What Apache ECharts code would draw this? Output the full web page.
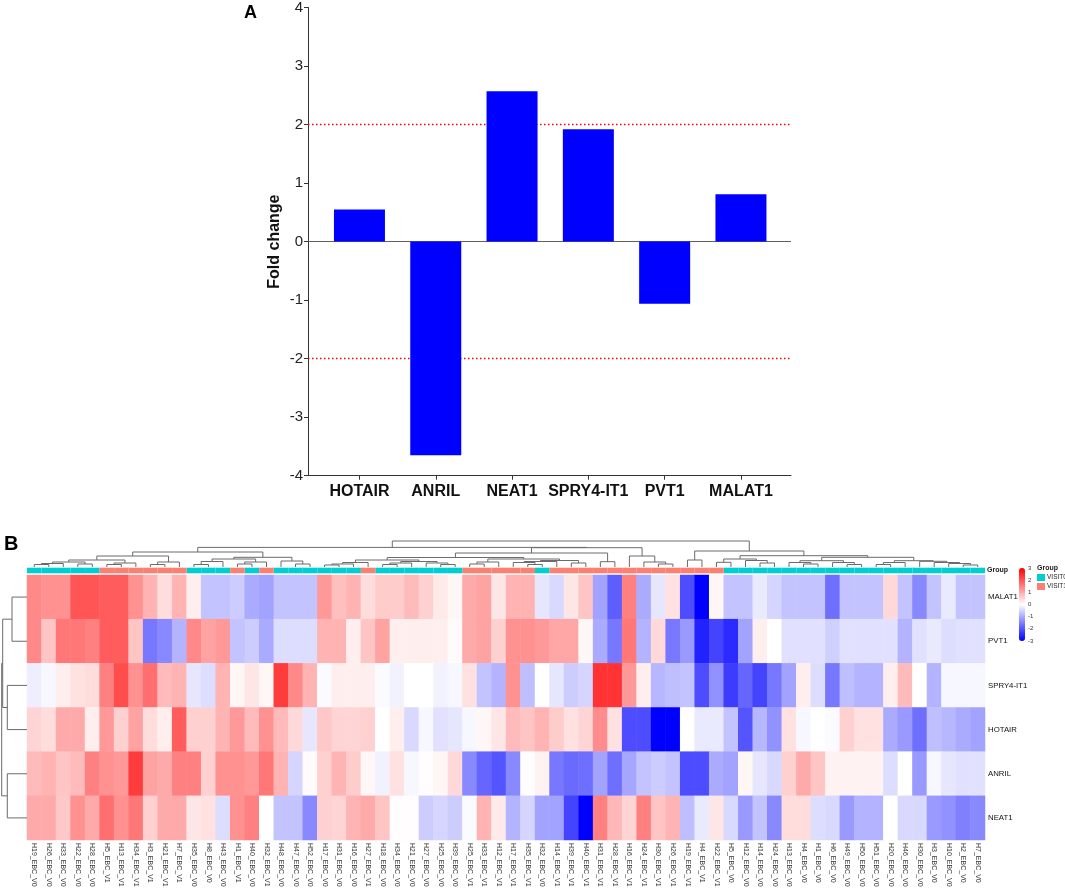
<!DOCTYPE html>
<html>
<head>
<meta charset="utf-8">
<script src="https://cdn.jsdelivr.net/npm/echarts@6/dist/echarts.min.js"></script>
<style>
html,body{margin:0;padding:0;background:#fff;}
#chart{width:1065px;height:892px;}
</style>
</head>
<body>
<div id="chart"></div>
<script>
// ---------- Panel A data ----------
const barCategories = ['HOTAIR', 'ANRIL', 'NEAT1', 'SPRY4-IT1', 'PVT1', 'MALAT1'];
const foldChange = [0.55, -3.65, 2.57, 1.92, -1.06, 0.81];
const thresholds = [2, -2];

// ---------- Panel B data ----------
const genes = ['MALAT1', 'PVT1', 'SPRY4-IT1', 'HOTAIR', 'ANRIL', 'NEAT1'];
const samples = [
  'H19_EBC_V0','H26_EBC_V0','H33_EBC_V0','H22_EBC_V0','H28_EBC_V0','H5_EBC_V1','H13_EBC_V1','H34_EBC_V1','H3_EBC_V1','H21_EBC_V1',
  'H7_EBC_V1','H35_EBC_V0','H8_EBC_V0','H43_EBC_V0','H1_EBC_V1','H40_EBC_V0','H32_EBC_V1','H48_EBC_V0','H47_EBC_V0','H52_EBC_V0',
  'H17_EBC_V0','H31_EBC_V0','H16_EBC_V0','H27_EBC_V1','H18_EBC_V0','H34_EBC_V0','H21_EBC_V0','H27_EBC_V0','H25_EBC_V0','H39_EBC_V0',
  'H25_EBC_V1','H33_EBC_V1','H12_EBC_V1','H17_EBC_V1','H35_EBC_V1','H32_EBC_V0','H14_EBC_V1','H39_EBC_V1','H40_EBC_V1','H31_EBC_V1',
  'H28_EBC_V1','H16_EBC_V1','H24_EBC_V1','H30_EBC_V1','H26_EBC_V1','H19_EBC_V1','H4_EBC_V1','H22_EBC_V1','H5_EBC_V0','H12_EBC_V0',
  'H14_EBC_V0','H24_EBC_V0','H13_EBC_V0','H4_EBC_V0','H1_EBC_V0','H6_EBC_V0','H49_EBC_V0','H50_EBC_V0','H51_EBC_V0','H20_EBC_V0',
  'H46_EBC_V0','H30_EBC_V0','H3_EBC_V0','H10_EBC_V0','H2_EBC_V0','H7_EBC_V0'
];
const groupNames = ['VISIT0', 'VISIT1'];

const malat1 = [1.4,1.3,1.3,2.0,2.0,1.9,1.9,1.3,0.9,0.4, 0.9,0.2,-0.7,-0.7,-0.6,-1.0,-1.1,-0.7,-0.7,-0.7,
  1.2,0.75,0.9,0.4,0.6,0.6,0.8,0.55,0.25,0.1, 1.0,1.1,0.3,0.9,0.9,-0.3,-0.45,0.3,0.7,-1.1,
  -1.9,1.5,-1.0,-0.3,0.35,-2.1,-3.0,0.1,-0.7,-0.7, -0.25,-0.5,-0.7,-0.7,-0.7,-1.7,-0.7,-0.7,-0.7,0.45,
  -0.7,-1.4,-0.7,-0.25,-0.7,-0.7];
const pvt1 = [1.4,0.7,1.6,1.6,1.5,1.9,1.9,0.7,-1.6,-1.4, -0.9,1.4,1.1,1.2,-0.7,-0.6,-1.0,-0.4,-0.4,-0.4,
  0.9,0.9,0.2,0.7,1.1,0.2,0.2,0.2,0.2,0.05, 1.0,1.1,0.55,1.3,1.3,1.2,1.05,1.05,0.1,-1.0,
  -1.6,1.6,-0.9,0.45,-1.6,-1.2,-2.6,-2.2,-2.5,-1.1, 0.2,0.0,-0.35,-0.35,-0.35,-0.55,-0.35,-0.35,-0.35,-0.35,
  -0.9,-0.35,-0.25,-0.4,-0.35,-0.35];
const spry4 = [-0.2,-0.1,0.2,0.35,0.4,1.5,2.1,1.3,1.7,0.8, 0.9,-0.3,-0.4,0.9,0.1,0.3,0.1,2.3,1.4,0.9,
  -0.05,0.2,0.2,0.2,-0.05,-0.15,0.0,0.0,-0.15,-0.1, 0.35,-0.7,-0.9,1.3,-0.75,0.0,-0.3,-0.6,-0.5,2.4,
  2.4,1.2,0.2,-0.85,-0.75,-0.7,-2.1,-1.3,-2.3,-1.8, -2.2,-1.6,-1.1,0.2,-0.4,-1.6,-0.75,-0.9,-0.9,0.2,
  0.8,0.0,-0.9,-0.1,-0.1,-0.1];
const hotair = [0.5,0.4,1.0,1.0,0.2,1.2,0.55,1.1,0.4,0.2, 1.9,0.55,0.55,0.9,1.2,0.8,1.3,0.8,0.45,-0.3,
  0.65,0.5,0.5,0.55,0.0,0.2,-0.45,-0.1,-0.35,-0.3, -0.1,0.1,0.3,0.8,0.7,0.9,0.6,0.35,0.5,1.35,
  0.35,-2.1,-2.1,-3.0,-3.0,0.0,-0.25,-0.25,-0.7,-2.0, -0.85,-1.3,0.35,-0.1,0.0,-0.05,0.55,0.35,0.35,-1.0,
  -1.2,-1.7,-0.75,-0.85,-1.0,-1.1];
const anril = [0.8,0.9,0.7,0.8,1.5,1.3,1.2,2.3,1.1,1.0, 1.5,1.5,0.55,1.3,1.3,1.2,1.6,0.9,-0.5,0.05,
  0.55,0.9,0.6,0.1,-0.15,0.35,-0.1,0.02,0.1,0.45, -1.4,-1.8,-2.0,-1.4,0.02,0.15,-1.6,-1.75,-1.7,-1.1,
  -1.7,-1.05,-0.7,-0.6,-0.7,-2.1,-2.1,-1.0,-1.1,0.1, -0.3,-0.45,0.55,1.0,0.7,0.15,0.15,0.15,0.15,-0.4,
  0.0,-1.2,-0.1,-0.3,-0.35,-0.35];
const neat1 = [1.0,1.0,0.65,1.3,1.0,1.7,1.3,1.6,0.55,1.0, 1.0,0.3,0.35,-0.4,1.3,1.5,0.0,-0.7,-0.7,-1.4,
  0.55,0.5,0.9,1.0,0.7,0.02,0.02,-0.6,-0.5,-0.6, -0.05,0.9,0.25,-0.9,-0.5,-1.1,-1.1,-2.2,-3.0,1.5,
  0.85,0.5,1.5,0.7,0.9,-0.75,-0.25,0.3,-0.45,-1.2, -0.7,-1.4,0.4,0.4,-0.4,-0.45,-1.2,-0.9,-0.9,0.0,
  -0.45,-0.45,-1.2,-1.3,-1.5,-1.4];
const geneValues = [malat1, pvt1, spry4, hotair, anril, neat1];

// Column dendrogram: [mergeHeight, left, right]; leaves are column indices
const clusterA = [15,
  [11, [7, [5, [3.5, [2.5, 0, 1], 2], [3, 3, 4]], [4, [2.5, 5, 6], 7]], [5, [2.5, 8, 9], 10]],
  [9.7, [8, [5.5, [2.5, 11, 12], 13], [5, [3, 14, 15], 16]], [6, 17, [3, 18, 19]]]];
const clusterB = [19.3,
  [14, [9.5,
        [7, [4.5, [3, [2, 20, 21], 22], 23], [5.5, [4, [2.5, 24, 25], 26], [4, 27, [2.5, 28, 29]]]],
        [8, [5, [3, 30, 31], 32], [6.5, [5.5, [4.5, 33, [2.5, 34, 35]], 36], [4, 37, 38]]]],
       [5.3, 39, 40]],
  [11, 41, [5, 42, [3, 43, 44]]]];
const clusterR = [16, [7, 45, 46],
  [11.3, [8, [4.7, 47, 48], [6.5, 49, [4, 50, 51]]],
         [9.7, [6.3, [4.5, 52, [3, 53, 54]], [4.5, 55, [2.5, 56, 57]]],
               [6.3, [4.5, [2.5, 58, 59], 60], [5.7, 61, [4.5, 62, [3.5, 63, [2, 64, 65]]]]]]]];
const colTree = [26, [19.6, clusterA, clusterB], clusterR];
// Row dendrogram
const rowTree = [25.3, [24.3, [15, 0, 1], [19.7, 2, 3]], [19.7, 4, 5]];

// ---------- helpers ----------
function layoutTree(node, segs) {
  if (typeof node === 'number') return { p: node + 0.5, h: 0 };
  const l = layoutTree(node[1], segs), r = layoutTree(node[2], segs);
  segs.push([l.p, l.h, r.p, r.h, node[0]]);
  return { p: (l.p + r.p) / 2, h: node[0] };
}
const colSegs = []; layoutTree(colTree, colSegs);
const rowSegs = []; layoutTree(rowTree, rowSegs);

const heatData = [];
geneValues.forEach((arr, gi) => arr.forEach((v, si) => heatData.push([si, gi, v])));
const groupOf = samples.map(s => s.endsWith('_V0') ? 'VISIT0' : 'VISIT1');

function dendroRender(orient) {
  return function (params, api) {
    const pL = api.value(0), hL = api.value(1), pR = api.value(2), hR = api.value(3), hN = api.value(4);
    let pts;
    if (orient === 'top') {
      pts = [api.coord([pL, hL]), api.coord([pL, hN]), api.coord([pR, hN]), api.coord([pR, hR])];
    } else {
      pts = [api.coord([hL, pL]), api.coord([hN, pL]), api.coord([hN, pR]), api.coord([hR, pR])];
    }
    return { type: 'polyline', shape: { points: pts }, style: { stroke: '#6b6b6b', lineWidth: 1, fill: null } };
  };
}

const FONT = 'Liberation Sans, Arial, sans-serif';
const chart = echarts.init(document.getElementById('chart'), null, { renderer: 'canvas' });

const series = [
  // grid1: zero line and thresholds
  { type: 'line', xAxisIndex: 1, yAxisIndex: 1, data: [[0, 0], [1, 0]], symbol: 'none', silent: true, z: 1,
    lineStyle: { color: '#606060', width: 1 } },
  { type: 'line', xAxisIndex: 1, yAxisIndex: 1, data: [[0, thresholds[0]], [1, thresholds[0]]], symbol: 'none', silent: true, z: 1,
    lineStyle: { color: '#FF0000', width: 1.5, type: [1.5, 2.5] } },
  { type: 'line', xAxisIndex: 1, yAxisIndex: 1, data: [[0, thresholds[1]], [1, thresholds[1]]], symbol: 'none', silent: true, z: 1,
    lineStyle: { color: '#FF0000', width: 1.5, type: [1.5, 2.5] } },
  // bars
  { type: 'bar', xAxisIndex: 0, yAxisIndex: 0, data: foldChange, barWidth: 51, z: 3,
    itemStyle: { color: '#0000FF' } },
  // column dendrogram
  { type: 'custom', xAxisIndex: 2, yAxisIndex: 2, data: colSegs, renderItem: dendroRender('top'), silent: true,
    encode: { x: [0, 2], y: [1, 3, 4] }, clip: false },
  // group annotation
  { type: 'bar', name: 'VISIT0', xAxisIndex: 3, yAxisIndex: 3, barCategoryGap: '0%', barGap: '-100%',
    data: groupOf.map(g => g === 'VISIT0' ? 1 : '-'), itemStyle: { color: '#00CED1' }, silent: true },
  { type: 'bar', name: 'VISIT1', xAxisIndex: 3, yAxisIndex: 3, barCategoryGap: '0%', barGap: '-100%',
    data: groupOf.map(g => g === 'VISIT1' ? 1 : '-'), itemStyle: { color: '#FA8072' }, silent: true },
  // heatmap
  { type: 'heatmap', xAxisIndex: 4, yAxisIndex: 4, data: heatData, silent: true, progressive: 0 },
  // row dendrogram
  { type: 'custom', xAxisIndex: 5, yAxisIndex: 5, data: rowSegs, renderItem: dendroRender('left'), silent: true,
    encode: { x: [1, 3, 4], y: [0, 2] }, clip: false }
];
const heatIndex = 7;

const option = {
  animation: false,
  backgroundColor: '#ffffff',
  textStyle: { fontFamily: FONT },
  title: [
    { text: 'A', left: 244, top: 4, padding: 0, textStyle: { fontSize: 18, fontWeight: 'bold', color: '#000', fontFamily: FONT } },
    { text: 'B', left: 4, top: 534, padding: 0, textStyle: { fontSize: 20, fontWeight: 'bold', color: '#000', fontFamily: FONT } },
    { text: 'Group', left: 987, top: 567, padding: 0, textStyle: { fontSize: 7, fontWeight: 'bold', color: '#222', fontFamily: FONT } },
    { text: 'Group', left: 1037, top: 565, padding: 0, textStyle: { fontSize: 7, fontWeight: 'bold', color: '#222', fontFamily: FONT } }
  ],
  legend: {
    data: groupNames, left: 1037, top: 574, orient: 'vertical', icon: 'rect', itemWidth: 8, itemHeight: 7, itemGap: 2,
    padding: 0, selectedMode: false, textStyle: { fontSize: 6.5, color: '#222', fontFamily: FONT, padding: [0, 0, 0, -3] }
  },
  visualMap: {
    type: 'continuous', min: -3, max: 3, seriesIndex: heatIndex, calculable: false, show: true,
    left: 1019, top: 568, itemWidth: 6, itemHeight: 73, padding: 0,
    inRange: { color: ['#0000FF', '#FFFFFF', '#FF0000'] }
  },
  grid: [
    { left: 321.3, width: 457.8, top: 7.3, height: 468.4 }, // 0 bars
    { left: 308, width: 483, top: 7.3, height: 468.4 },     // 1 overlay lines
    { left: 27, width: 958, top: 541, height: 26 },         // 2 col dendrogram
    { left: 27, width: 958, top: 567.7, height: 5.6 },      // 3 group bar
    { left: 27, width: 958, top: 575, height: 265 },        // 4 heatmap
    { left: 1.7, width: 25.3, top: 575, height: 265 },      // 5 row dendrogram
    { left: 1019, width: 6, top: 568, height: 73 }          // 6 colour-scale labels
  ],
  xAxis: [
    { gridIndex: 0, type: 'category', data: barCategories, position: 'bottom',
      axisLine: { show: false, onZero: false },
      axisTick: { show: true, alignWithLabel: true, length: 4, lineStyle: { color: '#333' } },
      axisLabel: { fontSize: 16, fontWeight: 'bold', color: '#111', margin: 8, fontFamily: FONT, interval: 0 } },
    { gridIndex: 1, type: 'value', min: 0, max: 1, position: 'bottom',
      axisLine: { show: true, onZero: false, lineStyle: { color: '#333', width: 1 } },
      axisTick: { show: false }, axisLabel: { show: false }, splitLine: { show: false } },
    { gridIndex: 2, type: 'value', min: 0, max: samples.length, show: false },
    { gridIndex: 3, type: 'category', data: samples, show: false },
    { gridIndex: 4, type: 'category', data: samples, position: 'bottom',
      axisLine: { show: false }, axisTick: { show: false }, splitLine: { show: false },
      axisLabel: { interval: 0, rotate: -90, fontSize: 7, color: '#333', margin: 3, fontFamily: FONT } },
    { gridIndex: 5, type: 'value', min: 0, max: rowTree[0], inverse: true, show: false },
    { gridIndex: 6, type: 'value', min: 0, max: 1, show: false }
  ],
  yAxis: [
    { gridIndex: 0, type: 'value', min: -4, max: 4, interval: 1, offset: 13.3,
      name: 'Fold change', nameLocation: 'middle', nameGap: 25,
      nameTextStyle: { fontSize: 16, fontWeight: 'bold', color: '#111', fontFamily: FONT },
      axisLine: { show: true, onZero: false, lineStyle: { color: '#333', width: 1 } },
      axisTick: { show: true, length: 4, lineStyle: { color: '#333' } },
      axisLabel: { fontSize: 15, color: '#222', margin: 5, fontFamily: FONT },
      splitLine: { show: false } },
    { gridIndex: 1, type: 'value', min: -4, max: 4, show: false },
    { gridIndex: 2, type: 'value', min: 0, max: colTree[0], show: false },
    { gridIndex: 3, type: 'value', min: 0, max: 1, show: false },
    { gridIndex: 4, type: 'category', data: genes, inverse: true, position: 'right',
      axisLine: { show: false }, axisTick: { show: false }, splitLine: { show: false },
      axisLabel: { fontSize: 7.8, color: '#111', margin: 3, fontFamily: FONT } },
    { gridIndex: 5, type: 'value', min: 0, max: genes.length, inverse: true, show: false },
    { gridIndex: 6, type: 'value', min: -3, max: 3, interval: 1, position: 'right',
      axisLine: { show: false }, axisTick: { show: false }, splitLine: { show: false },
      axisLabel: { fontSize: 6, color: '#333', margin: 3, fontFamily: FONT } }
  ],
  series: series
};
chart.setOption(option);
</script>
</body>
</html>
